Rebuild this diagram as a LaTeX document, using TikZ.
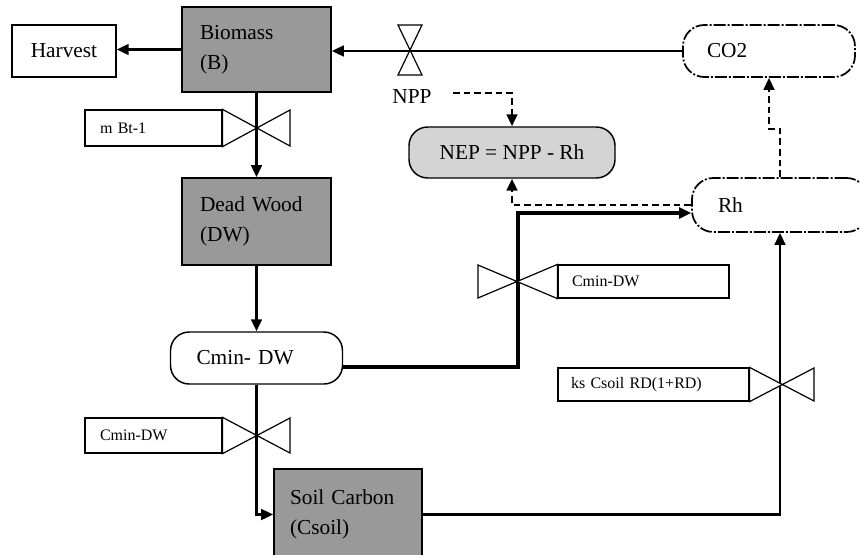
\documentclass[tikz,border=0pt]{standalone}
\usepackage{fontspec}
\setmainfont{Liberation Serif}
\usetikzlibrary{arrows.meta,calc}
\newdimen\px \px=0.75pt
\begin{document}
\begin{tikzpicture}[x=0.75pt,y=-0.75pt,
  big/.style={font=\fontsize{16}{22.5}\selectfont},
  small/.style={font=\fontsize{12}{14}\selectfont},
  stockbox/.style={draw, line width=1.2pt, fill=black!40, big, align=left, inner ysep=0pt},
  plainbox/.style={draw, line width=1.1pt, fill=white, big, inner sep=0pt},
  cloud/.style={draw, line width=1.3pt, fill=white, big, align=left, inner ysep=0pt,
     rounded corners=16pt, dash pattern=on 9pt off 1.5pt on 1.5pt off 1.5pt},
  aux/.style={draw, line width=1.1pt, fill=white, big, inner ysep=0pt, rounded corners=14pt},
  lab/.style={draw, line width=0.9pt, fill=white, small, align=left, inner ysep=0pt},
  valve/.style={draw, line width=0.9pt, fill=white},
  flow/.style={draw, line width=1.9pt, -{Triangle[length=9pt,width=8pt]}},
  flowthick/.style={draw, line width=2.8pt, -{Triangle[length=9pt,width=8pt]}},
  info/.style={draw, line width=2pt, dash pattern=on 5pt off 3pt, -{Triangle[length=9pt,width=8pt]}}
]
\useasboundingbox (0,0) rectangle (860,554);
\fill[white] (0,0) rectangle (860,554);
\clip (0,0) rectangle (860,554);

% stocks and other nodes
\node[stockbox, minimum width=149\px, minimum height=85\px, text width=113\px, inner xsep=18\px] (bio) at (256.5,49.5) {Biomass\\(B)};
\node[plainbox, minimum width=104\px, minimum height=52\px] (harv) at (64,51) {Harvest};
\node[stockbox, minimum width=149\px, minimum height=87\px, text width=113\px, inner xsep=18\px] (dw) at (256.5,221.5) {Dead Wood\\(DW)};
\node[stockbox, minimum width=148\px, minimum height=91\px, text width=116\px, inner xsep=16\px] (soil) at (348,514.5) {Soil Carbon\\(Csoil)};
\node[cloud, minimum width=172\px, minimum height=52\px, text width=124\px, inner xsep=24\px] (co2) at (769,51) {CO2};
\node[cloud, minimum width=176\px, minimum height=54\px, text width=124\px, inner xsep=26\px] (rh) at (780,205) {Rh};
\node[aux, minimum width=172\px, minimum height=52\px, text width=120\px, inner xsep=26\px, align=left] (cmin) at (256.5,358) {Cmin- DW};
\node[aux, fill=black!17, minimum width=206\px, minimum height=51\px, inner xsep=0pt] (nep) at (512,152.5) {NEP = NPP - Rh};
\node[big, inner sep=0pt] (npp) at (412,97) {NPP};
\coordinate (nppd) at (453,93);

% valve labels
\node[lab, minimum width=137\px, minimum height=36\px, text width=107\px, inner xsep=15\px] (lab1) at (153.5,128) {m Bt-1};
\node[lab, minimum width=137\px, minimum height=35\px, text width=107\px, inner xsep=15\px] (lab2) at (153.5,435.5) {Cmin-DW};
\node[lab, minimum width=171\px, minimum height=33\px, text width=143\px, inner xsep=14\px] (lab3) at (643.5,281.5) {Cmin-DW};
\node[lab, minimum width=191\px, minimum height=33\px, text width=165\px, inner xsep=13\px] (lab4) at (653.5,384.5) {ks Csoil RD(1+RD)};

% flows
\draw[flow] (bio.west) -- (bio.west -| harv.east);
\draw[flow] (co2.west) -- (co2.west -| bio.east);
\draw[flow] (bio.south) -- (dw.north);
\draw[flow] (dw.south) -- (cmin.north);
\draw[flow] (cmin.south) |- (soil.west);
\coordinate (ce) at ($(cmin.east)+(-1,9)$);
\coordinate (j1) at (518,213);
\draw[flowthick] (ce) -- (ce -| j1) -- (j1) -- (j1 -| rh.west);
\draw[flow] (soil.east) -| (rh.south);

% valves
\draw[valve] (398,25) -- (422,25) -- (398,75) -- (422,75) -- cycle;
\draw[valve] (lab1.north east) -- (290,146) -- (290,110) -- (lab1.south east) -- cycle;
\draw[valve] (lab2.north east) -- (290,453) -- (290,418) -- (lab2.south east) -- cycle;
\draw[valve] (478,265) -- (lab3.south west) -- (lab3.north west) -- (478,298) -- cycle;
\draw[valve] (lab4.north east) -- (814,401) -- (814,368) -- (lab4.south east) -- cycle;

% information links
\draw[info] (nppd) -| (nep.north);
\draw[info] (rh.west) -| (nep.south);
\coordinate (jg) at (769,129);
\draw[info] (rh.north) |- (jg) -- (co2.south);
\end{tikzpicture}
\end{document}
